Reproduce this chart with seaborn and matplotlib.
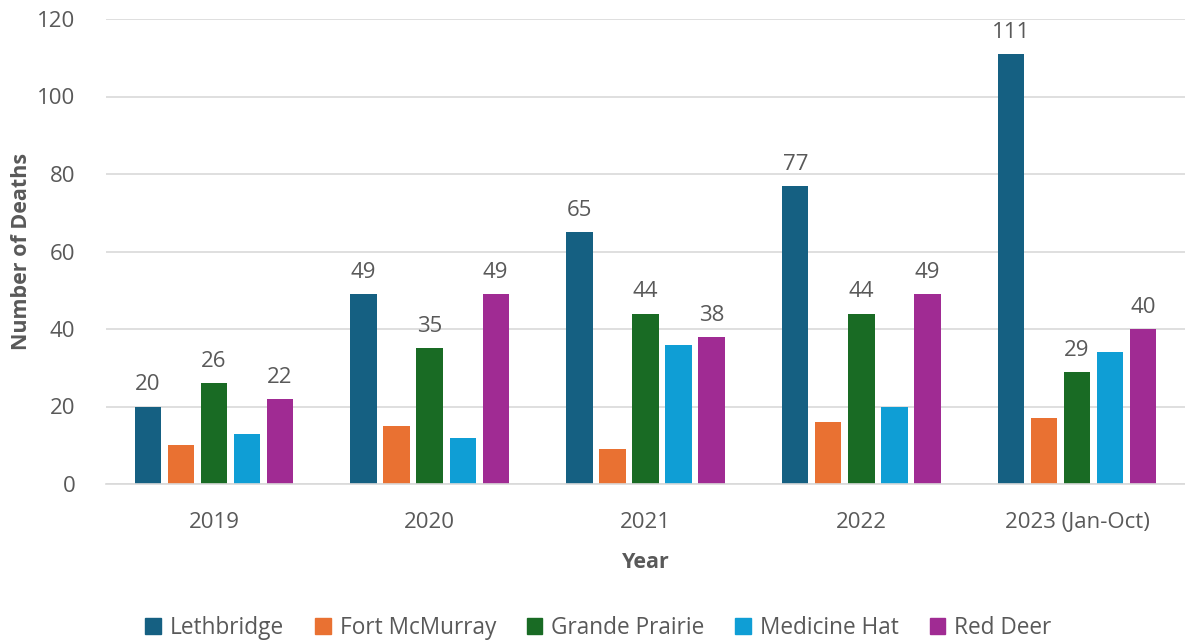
import pandas as pd
import numpy as np
import matplotlib.pyplot as plt
import seaborn as sns

years = ['2019', '2020', '2021', '2022', '2023 (Jan-Oct)']
cities = ['Lethbridge', 'Fort McMurray', 'Grande Prairie', 'Medicine Hat', 'Red Deer']
lethbridge = [20, 49, 65, 77, 111]
fort_mcmurray = [10, 15, 9, 16, 17]
grande_prairie = [26, 35, 44, 44, 29]
medicine_hat = [13, 12, 36, 20, 34]
red_deer = [22, 49, 38, 49, 40]
colors = ['#156082', '#E97132', '#196B24', '#0F9ED5', '#A02B93']
labelled = ['Lethbridge', 'Grande Prairie', 'Red Deer']

series = [lethbridge, fort_mcmurray, grande_prairie, medicine_hat, red_deer]
df = pd.DataFrame({
    'Year': np.repeat([years], len(cities), axis=0).ravel(),
    'City': np.repeat(cities, len(years)),
    'Deaths': np.concatenate(series),
})

sns.set_style('white')
plt.rcParams['font.family'] = ['Open Sans', 'DejaVu Sans']
text_col = '#595959'

fig = plt.figure(figsize=(11.85, 6.44), dpi=100)
ax = fig.add_axes([106 / 1185, 1 - 484 / 644, 1 - 106 / 1185, (484 - 19) / 644])

sns.barplot(data=df, x='Year', y='Deaths', hue='City', order=years, hue_order=cities,
            palette=colors, width=0.765, gap=0.2, saturation=1, linewidth=0,
            ax=ax, legend=False)

for cont, city in zip(ax.containers, cities):
    if city in labelled:
        ax.bar_label(cont, padding=8, fontsize=16, color=text_col)

ax.set_ylim(0, 120)
ax.set_xlim(-0.5, 4.5)
ax.set_yticks(range(0, 121, 20))
ax.yaxis.grid(True, color='#d9d9d9', linewidth=1.2)
ax.set_axisbelow(True)
for s in ['top', 'right', 'left']:
    ax.spines[s].set_visible(False)
ax.spines['bottom'].set_color('#d9d9d9')
ax.spines['bottom'].set_linewidth(1.2)
ax.tick_params(axis='both', length=0, labelsize=16, colors=text_col)
ax.tick_params(axis='x', pad=20)
ax.tick_params(axis='y', pad=22)
ax.set_xlabel('Year', fontsize=15.5, fontweight='bold', color=text_col, labelpad=14)
ax.set_ylabel('Number of Deaths', fontsize=15.5, fontweight='bold', color=text_col, labelpad=4)

handles = [plt.Rectangle((0, 0), 1, 1, color=c) for c in colors]
fig.legend(handles, cities, loc='lower center', bbox_to_anchor=(0.505, -0.025), ncol=5,
           frameon=False, fontsize=16.3, handlelength=0.7, handleheight=0.7,
           handletextpad=0.4, columnspacing=1.35, labelcolor=text_col)

fig.savefig('out.png', dpi=100)
